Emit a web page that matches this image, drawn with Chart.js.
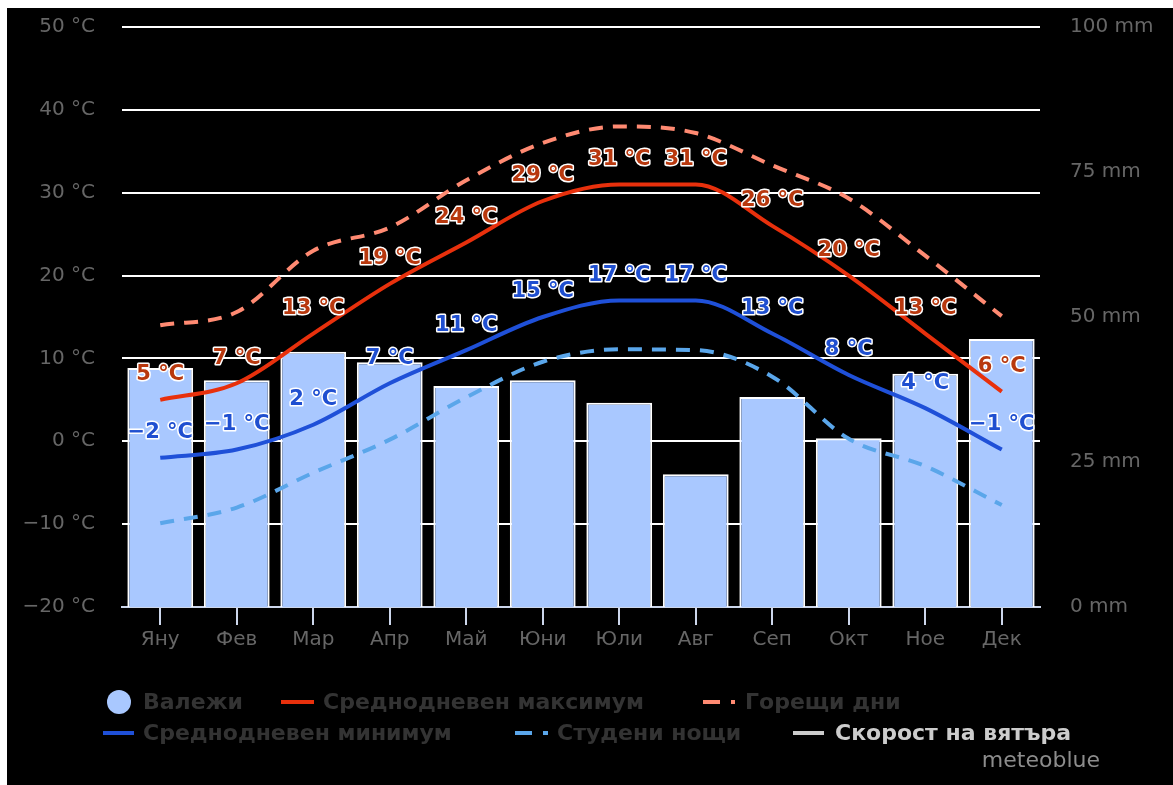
<!DOCTYPE html>
<html>
<head>
<meta charset="utf-8">
<script src="https://cdn.jsdelivr.net/npm/chart.js@4/dist/chart.umd.min.js"></script>
<style>
  html, body { margin: 0; padding: 0; background: #fff; }
  #wrap { position: absolute; left: 7px; top: 8px; width: 1166px; height: 777px; background: #000; }
  canvas { display: block; }
</style>
</head>
<body>
<div id="wrap"><canvas id="climate" width="1166" height="777"></canvas></div>
<script>
const months = ['Яну', 'Фев', 'Мар', 'Апр', 'Май', 'Юни', 'Юли', 'Авг', 'Сеп', 'Окт', 'Ное', 'Дек'];
const precipitation = [41.2, 39.1, 44.0, 42.2, 38.1, 39.1, 35.2, 22.9, 36.2, 29.1, 40.2, 46.2];
const maxTemp = [5, 7, 13, 19, 24, 29, 31, 31, 26, 20, 13, 6];
const minTemp = [-2, -1, 2, 7, 11, 15, 17, 17, 13, 8, 4, -1];
const hotDays = [14.0, 15.6, 23.0, 25.8, 31.5, 36.0, 38.0, 37.2, 33.3, 29.3, 22.4, 15.1];
const coldNights = [-9.9, -8.0, -3.8, 0.2, 5.3, 9.6, 11.1, 11.0, 7.8, 0.3, -3.0, -7.7];
const windSpeed = [];
const tempRange = [-20, 50, 10];
const rainRange = [0, 100, 25];

const FONT = 'DejaVu Sans, Verdana, sans-serif';
const minus = v => (v < 0 ? '\u2212' + Math.abs(v) : String(v));

// value labels above the max/min temperature lines
const valueLabels = {
  id: 'valueLabels',
  afterDatasetsDraw(chart) {
    const ctx = chart.ctx;
    ctx.save();
    ctx.font = 'bold 21px ' + FONT;
    ctx.textAlign = 'center';
    ctx.textBaseline = 'middle';
    ctx.lineJoin = 'round';
    chart.data.datasets.forEach((ds, i) => {
      if (!ds.labelColor || !chart.isDatasetVisible(i)) return;
      chart.getDatasetMeta(i).data.forEach((pt, j) => {
        const txt = minus(ds.data[j]) + ' °C';
        const y = pt.y - 25;
        ctx.strokeStyle = '#fff';
        ctx.lineWidth = 3;
        ctx.strokeText(txt, pt.x, y);
        ctx.fillStyle = ds.labelColor;
        ctx.fillText(txt, pt.x, y);
      });
    });
    ctx.restore();
  }
};

// two-row legend plus the credit line
const legendSlots = [
  { mx: 112, mw: 0, tx: 136, y: 694 },
  { mx: 274, mw: 33, tx: 316, y: 694 },
  { mx: 696, mw: 32, tx: 738, y: 694 },
  { mx: 96, mw: 31, tx: 136, y: 725 },
  { mx: 508, mw: 33, tx: 550, y: 725 },
  { mx: 786, mw: 31, tx: 828, y: 725 }
];
const legendRows = {
  id: 'legendRows',
  afterDraw(chart) {
    const ctx = chart.ctx;
    ctx.save();
    ctx.font = 'bold 22px ' + FONT;
    ctx.textBaseline = 'middle';
    chart.data.datasets.forEach((ds, i) => {
      const s = legendSlots[i];
      const hidden = !chart.isDatasetVisible(i);
      const col = hidden ? '#cccccc' : (ds.type === 'bar' ? ds.backgroundColor : ds.borderColor);
      if (ds.type === 'bar') {
        ctx.fillStyle = col;
        ctx.beginPath();
        ctx.arc(s.mx, s.y, 12, 0, Math.PI * 2);
        ctx.fill();
      } else {
        ctx.strokeStyle = col;
        ctx.lineWidth = 4;
        ctx.setLineDash(ds.borderDash ? [17, 11] : []);
        ctx.beginPath();
        ctx.moveTo(s.mx, s.y);
        ctx.lineTo(s.mx + s.mw, s.y);
        ctx.stroke();
        ctx.setLineDash([]);
      }
      ctx.fillStyle = hidden ? '#cccccc' : '#333333';
      ctx.fillText(ds.label, s.tx, s.y + 1);
    });
    ctx.font = '22px ' + FONT;
    ctx.fillStyle = '#8c8c8c';
    ctx.textAlign = 'right';
    ctx.fillText('meteoblue', 1093, 753);
    ctx.restore();
  }
};

// fixed axis sizes, no extra room for overhanging labels
const fitY = w => s => { s.width = w; s.paddingTop = 0; s.paddingBottom = 0; };

new Chart(document.getElementById('climate'), {
  data: {
    labels: months,
    datasets: [
      {
        type: 'bar', label: 'Валежи', data: precipitation, yAxisID: 'y2',
        backgroundColor: '#a9c8ff', borderColor: '#ffffff', borderWidth: 2,
        barPercentage: 0.86, categoryPercentage: 1, order: 10
      },
      {
        type: 'line', label: 'Среднодневен максимум', data: maxTemp, yAxisID: 'y',
        borderColor: '#e8300c', borderWidth: 4, labelColor: '#b8380e', order: 2
      },
      {
        type: 'line', label: 'Горещи дни', data: hotDays, yAxisID: 'y',
        borderColor: '#ff8a72', borderWidth: 4, borderDash: [14, 10], order: 3
      },
      {
        type: 'line', label: 'Среднодневен минимум', data: minTemp, yAxisID: 'y',
        borderColor: '#1f50d8', borderWidth: 4, labelColor: '#1f4fd0', order: 2
      },
      {
        type: 'line', label: 'Студени нощи', data: coldNights, yAxisID: 'y',
        borderColor: '#5aa6ea', borderWidth: 4, borderDash: [14, 10], order: 3
      },
      {
        type: 'line', label: 'Скорост на вятъра', data: windSpeed, yAxisID: 'y',
        borderColor: '#ffffff', borderWidth: 4, hidden: true, order: 4
      }
    ]
  },
  options: {
    responsive: false,
    animation: false,
    layout: { padding: { top: 19, left: 0, right: 0, bottom: 128 } },
    elements: {
      point: { radius: 0, hoverRadius: 0 },
      line: { cubicInterpolationMode: 'monotone', fill: false }
    },
    plugins: { legend: { display: false }, tooltip: { enabled: false } },
    scales: {
      x: {
        offset: true,
        grid: { offset: false, drawOnChartArea: false, color: '#ccd6eb', tickLength: 18, lineWidth: 2 },
        border: { color: '#ccd6eb', width: 2 },
        ticks: { color: '#666666', font: { family: FONT, size: 20 }, padding: 3, maxRotation: 0, autoSkip: false },
        afterFit: s => { s.height = 50; s.paddingLeft = 0; s.paddingRight = 0; }
      },
      y: {
        position: 'left',
        min: tempRange[0], max: tempRange[1],
        grid: { color: '#ffffff', lineWidth: 2, drawTicks: false },
        border: { display: false },
        ticks: {
          stepSize: tempRange[2], color: '#666666', font: { family: FONT, size: 20 }, padding: 27,
          callback: v => minus(v) + ' °C'
        },
        afterFit: fitY(115)
      },
      y2: {
        position: 'right',
        min: rainRange[0], max: rainRange[1],
        grid: { display: false, drawTicks: false },
        border: { display: false },
        ticks: {
          stepSize: rainRange[2], color: '#666666', font: { family: FONT, size: 20 }, padding: 30,
          callback: v => v + ' mm'
        },
        afterFit: fitY(133)
      }
    }
  },
  plugins: [valueLabels, legendRows]
});
</script>
</body>
</html>
